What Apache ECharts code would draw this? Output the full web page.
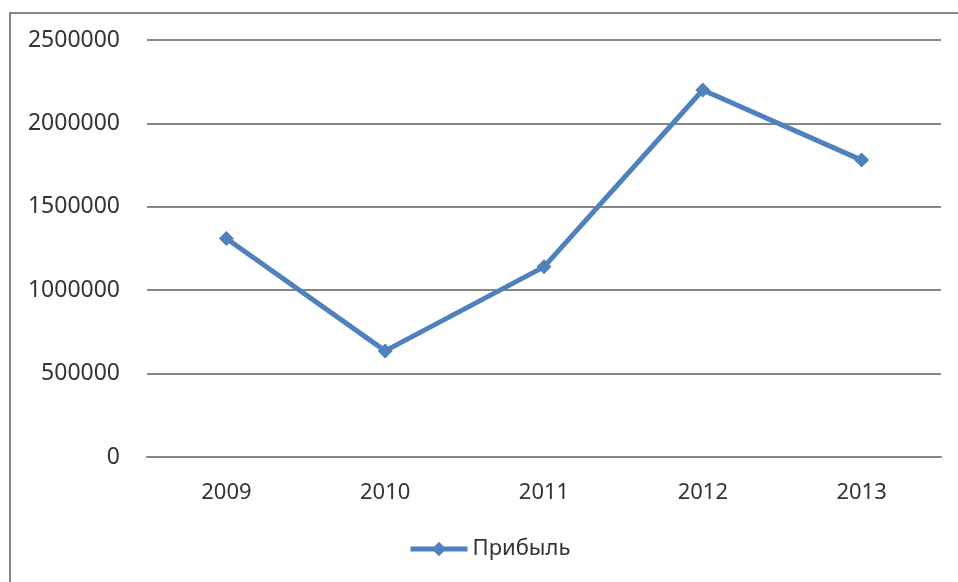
<!DOCTYPE html>
<html>
<head>
<meta charset="utf-8">
<script src="https://cdn.jsdelivr.net/npm/echarts@6/dist/echarts.min.js"></script>
<style>
  html, body { margin: 0; padding: 0; background: #fff; }
  #frame { position: absolute; left: 9px; top: 12px; width: 960px; height: 580px; border-left: 2px solid #868686; border-top: 2px solid #868686; }
  #chart { position: absolute; left: 0; top: 0; width: 958px; height: 582px; }
</style>
</head>
<body>
<div id="frame"></div>
<div id="chart"></div>
<script>
const years = ['2009', '2010', '2011', '2012', '2013']
const profit = [1310000, 636000, 1140000, 2200000, 1780000]
const seriesName = 'Прибыль'

const chart = echarts.init(document.getElementById('chart'))
chart.setOption({
  animation: false,
  textStyle: { fontFamily: 'Noto Sans' },
  grid: { left: 147, right: 17, top: 40, bottom: 125 },
  legend: {
    data: [seriesName],
    bottom: 17,
    left: 403,
    itemWidth: 57,
    itemHeight: 18,
    itemGap: 4,
    itemStyle: { color: '#4F81BD' },
    lineStyle: { color: '#4F81BD', width: 5 },
    textStyle: { fontSize: 22, color: '#333', padding: [0, 0, 0, 0] }
  },
  xAxis: {
    type: 'category',
    data: years,
    axisLine: { lineStyle: { color: '#868686', width: 2 } },
    axisTick: { show: false },
    axisLabel: { fontSize: 22, color: '#333', margin: 25 }
  },
  yAxis: {
    type: 'value',
    min: 0,
    max: 2500000,
    interval: 500000,
    axisLine: { show: false },
    axisTick: { show: false },
    axisLabel: { fontSize: 23, color: '#333', margin: 27, formatter: v => String(v) },
    splitLine: { lineStyle: { color: '#868686', width: 2 } }
  },
  series: [{
    name: seriesName,
    type: 'line',
    data: profit,
    symbol: 'diamond',
    symbolSize: 15,
    lineStyle: { color: '#4F81BD', width: 5 },
    itemStyle: { color: '#4F81BD' }
  }]
})
</script>
</body>
</html>
